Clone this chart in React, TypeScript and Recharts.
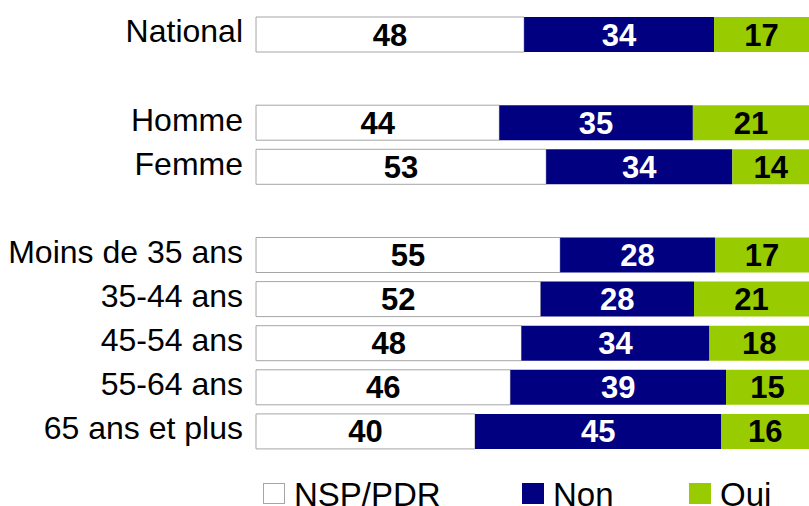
import React from "react";
import { BarChart, Bar, XAxis, YAxis, LabelList } from "recharts";

// rows of the chart, empty names are spacer rows
const groups = ["National", "", "Homme", "Femme", "", "Moins de 35 ans", "35-44 ans", "45-54 ans", "55-64 ans", "65 ans et plus"];
const nspValues = [48, null, 44, 53, null, 55, 52, 48, 46, 40];
const nonValues = [34, null, 35, 34, null, 28, 28, 34, 39, 45];
const ouiValues = [17, null, 21, 14, null, 17, 21, 18, 15, 16];

const series = [
  { key: "nsp", name: "NSP/PDR", color: "#ffffff", stroke: "#a6a6a6", text: "#000000" },
  { key: "non", name: "Non", color: "#000080", stroke: "none", text: "#ffffff" },
  { key: "oui", name: "Oui", color: "#99cc00", stroke: "none", text: "#000000" },
];

const data = groups.map((g, i) => ({
  id: `r${i}`,
  name: g,
  nsp: nspValues[i],
  non: nonValues[i],
  oui: ouiValues[i],
}));

const FONT = "'Liberation Sans', Arial, sans-serif";

const hideEmpty = (v: any) => (v == null ? "" : v);

// legend item x positions (square left edge)
const legendX = [263, 522, 689];

export default function App() {
  return (
    <div style={{ position: "absolute", left: 0, top: 0, width: 809, height: 506, background: "#fff", fontFamily: FONT, overflow: "hidden" }}>
      <BarChart
        width={809}
        height={506}
        data={data}
        layout="vertical"
        stackOffset="expand"
        barSize={35}
        margin={{ top: 12, right: 0, bottom: 53, left: 0 }}
      >
        <XAxis type="number" hide domain={[0, 1]} />
        <YAxis
          type="category"
          dataKey="id"
          width={256}
          axisLine={false}
          tickLine={false}
          tickSize={0}
          tickMargin={13}
          interval={0}
          tickFormatter={(v: string) => data.find((d) => d.id === v)?.name ?? ""}
          tick={{ fill: "#000", fontSize: 32, fontFamily: FONT, dy: -3 }}
        />
        {series.map((s) => (
          <Bar
            key={s.key}
            dataKey={s.key}
            name={s.name}
            stackId="a"
            fill={s.color}
            stroke={s.stroke}
            strokeWidth={1}
            isAnimationActive={false}
          >
            <LabelList
              dataKey={s.key}
              position="center"
              formatter={hideEmpty}
              fill={s.text}
              style={{ fontSize: 31, fontWeight: "bold", fontFamily: FONT, fill: s.text }}
            />
          </Bar>
        ))}
      </BarChart>
      {/* legend, bottom edge cuts the text like in the original */}
      {series.map((s, i) => (
        <div
          key={s.key}
          style={{ position: "absolute", left: legendX[i], top: 478, display: "flex", alignItems: "flex-start", whiteSpace: "nowrap" }}
        >
          <span
            style={{
              display: "inline-block",
              width: 22,
              height: 21,
              marginTop: 5,
              background: s.color,
              border: s.stroke === "none" ? "none" : `1px solid ${s.stroke}`,
              boxSizing: "border-box",
              marginRight: 9,
            }}
          />
          <span style={{ fontSize: 33, color: "#000", lineHeight: "33px" }}>{s.name}</span>
        </div>
      ))}
    </div>
  );
}
